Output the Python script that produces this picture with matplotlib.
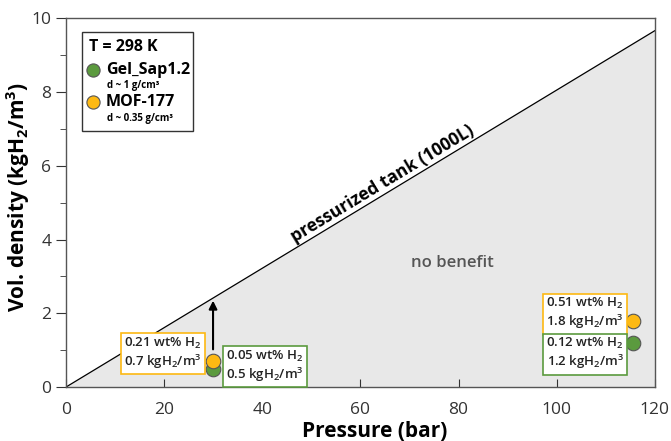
import matplotlib
matplotlib.use("Agg")
import matplotlib.pyplot as plt
from matplotlib.ticker import MultipleLocator
from matplotlib.patches import Rectangle

tank_p = [0, 120]
tank_d = [0, 9.66]
gel_p = [30, 115.5]
gel_d = [0.5, 1.2]
mof_p = [30, 115.5]
mof_d = [0.7, 1.8]
gel_labels = ["0.05 wt% H$_2$\n0.5 kgH$_2$/m$^3$", "0.12 wt% H$_2$\n1.2 kgH$_2$/m$^3$"]
mof_labels = ["0.21 wt% H$_2$\n0.7 kgH$_2$/m$^3$", "0.51 wt% H$_2$\n1.8 kgH$_2$/m$^3$"]

GREEN = "#5b9a3e"
ORANGE = "#fdb913"
FONT = "Open Sans"
plt.rcParams['font.family'] = [FONT, 'DejaVu Sans']
plt.rcParams['mathtext.fontset'] = 'custom'
plt.rcParams['mathtext.rm'] = f'{FONT}:semibold'
plt.rcParams['mathtext.bf'] = f'{FONT}:bold'

fig = plt.figure(figsize=(6.71, 4.41), dpi=100)
ax = fig.add_axes([0.098, 0.122, 0.878, 0.837])
ax.set_xlim(0, 120)
ax.set_ylim(0, 10)

ax.fill_between(tank_p, tank_d, 0, color="#e8e8e8", zorder=0)
ax.plot(tank_p, tank_d, color="black", lw=0.9, zorder=1)

ax.scatter(gel_p, gel_d, s=110, color=GREEN, edgecolor="#555555", lw=0.8, zorder=4)
ax.scatter(mof_p, mof_d, s=110, color=ORANGE, edgecolor="#555555", lw=0.8, zorder=5)

ax.annotate("", xy=(30, 2.42), xytext=(30, 0.95),
            arrowprops=dict(arrowstyle="-|>", color="black", lw=1.5, mutation_scale=12), zorder=3)

slope = tank_d[1] / tank_p[1]
tx = 65.5
ax.text(tx, slope * tx + 0.02, "pressurized tank (1000L)", rotation=31.2, rotation_mode="anchor",
        ha="center", va="bottom", fontsize=12.5, fontweight="bold")
ax.text(78.7, 3.36, "no benefit", ha="center", va="center", fontsize=12,
        fontweight="semibold", color="#555555")

def box(x, y, s, ec, ha):
    ax.text(x, y, s, ha=ha, va="center", fontsize=9.5, linespacing=1.15, fontweight="semibold",
            color="#222222",
            bbox=dict(boxstyle="square,pad=0.25", fc="white", ec=ec, lw=1.2), zorder=6)

box(27.7, 0.92, mof_labels[0], ORANGE, "right")
box(32.6, 0.57, gel_labels[0], GREEN, "left")
box(113.7, 1.99, mof_labels[1], ORANGE, "right")
box(113.7, 0.91, gel_labels[1], GREEN, "right")

# legend box
ax.add_patch(Rectangle((3.26, 6.94), 22.6, 2.68, fc="white", ec="#333333", lw=1.0, zorder=6))
ax.text(4.8, 9.21, "T = 298 K", fontsize=11.5, fontweight="bold", va="center", zorder=7)
ax.scatter([5.6], [8.59], s=90, color=GREEN, edgecolor="#555555", lw=0.8, zorder=7)
ax.text(8.2, 8.59, "Gel_Sap1.2", fontsize=11.5, fontweight="bold", va="center", zorder=7)
ax.text(8.4, 8.16, "d ~ 1 g/cm³", fontsize=7, fontweight="bold", va="center", zorder=7)
ax.scatter([5.6], [7.72], s=90, color=ORANGE, edgecolor="#555555", lw=0.8, zorder=7)
ax.text(8.2, 7.72, "MOF-177", fontsize=11.5, fontweight="bold", va="center", zorder=7)
ax.text(8.4, 7.29, "d ~ 0.35 g/cm³", fontsize=7, fontweight="bold", va="center", zorder=7)

ax.xaxis.set_major_locator(MultipleLocator(20))
ax.yaxis.set_major_locator(MultipleLocator(2))
ax.yaxis.set_minor_locator(MultipleLocator(1))
ax.tick_params(axis="x", direction="in", length=6, labelsize=12.5, colors="#333333", pad=11)
ax.tick_params(axis="y", which="major", direction="out", length=7, labelsize=12.5, colors="#333333")
ax.tick_params(axis="y", which="minor", direction="out", length=4, colors="#333333")
for sp in ax.spines.values():
    sp.set_color("#555555")
    sp.set_linewidth(1.0)

fig.text(375 / 671, 1 - 437 / 441, "Pressure (bar)", ha="center", va="baseline",
         fontsize=15, fontweight="bold")
fig.text(18 / 671, 1 - 197 / 441, "Vol. density (kgH$_\\mathbf{2}$/m$^\\mathbf{3}$)",
         ha="center", va="center", rotation=90, fontsize=15, fontweight="bold")

fig.savefig("out.png", dpi=100)
